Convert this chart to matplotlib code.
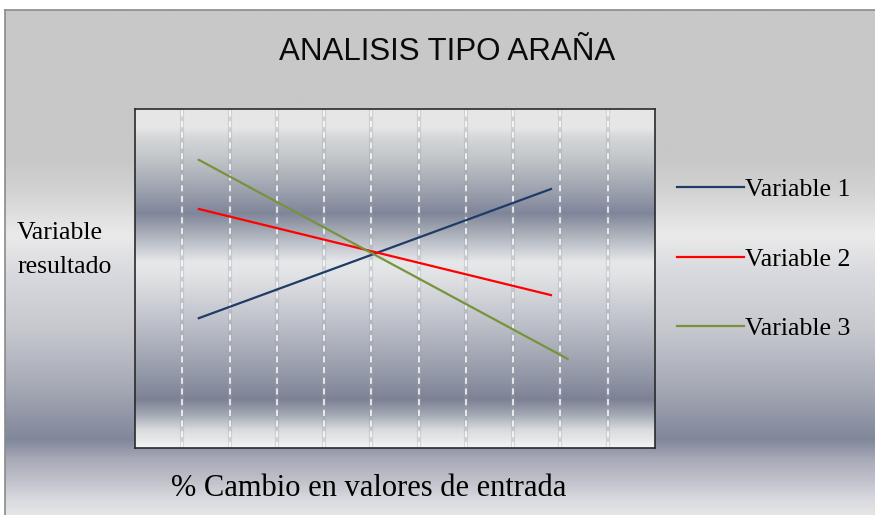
import numpy as np
import matplotlib
matplotlib.use("Agg")
import matplotlib.pyplot as plt
from matplotlib.colors import to_rgb

# data (x: 0..11 box, y: 0..100 box)
series_names = ["Variable 1", "Variable 2", "Variable 3"]
series_colors = ["#1f3b66", "#ff0000", "#77933c"]
v1_x = [1.35, 8.8]
v1_y = [38.3, 76.4]
v2_x = [1.35, 8.8]
v2_y = [70.5, 45.1]
v3_x = [1.35, 9.15]
v3_y = [85.0, 26.3]
grid_x = [1, 2, 3, 4, 5, 6, 7, 8, 9, 10]

title = "ANALISIS TIPO ARAÑA"
ylabel = "Variable\nresultado"
xlabel = "% Cambio en valores de entrada"

W, H = 875, 515


def gradient(stops, top, bottom, n=400):
    ys = np.linspace(top, bottom, n)
    pos = [s[0] for s in stops]
    cols = np.array([to_rgb(s[1]) for s in stops])
    img = np.stack([np.interp(ys, pos, cols[:, k]) for k in range(3)], axis=-1)
    return img[:, None, :]


fig = plt.figure(figsize=(W / 100, H / 100), dpi=100, facecolor="white")

# outer background panel
bg_stops = [(10, "#c8c8c8"), (160, "#c8c8c8"), (190, "#d2d2d2"), (235, "#eaeaea"),
            (275, "#d8d9de"), (330, "#c6c8ce"), (390, "#a4a8b4"), (440, "#80879a"),
            (460, "#a8aab8"), (482, "#c2c2cc"), (500, "#d8dade"), (515, "#e6e6e6")]
bg = fig.add_axes([5 / W, 0, 870 / W, 505 / H], zorder=0)
bg.imshow(gradient(bg_stops, 10, 515), aspect="auto", extent=[0, 1, 0, 1])
bg.set_xticks([])
bg.set_yticks([])
for side in ["right", "bottom"]:
    bg.spines[side].set_visible(False)
for side in ["top", "left"]:
    bg.spines[side].set_color("#8a8a8a")
    bg.spines[side].set_linewidth(1.2)

# plot area
ax = fig.add_axes([135 / W, 1 - 448 / H, 520 / W, 339 / H], zorder=1)
pa_stops = [(109, "#e6e6e6"), (128, "#e6e6e6"), (136, "#d6d8da"), (160, "#c0c4c8"),
            (190, "#9ca2ae"), (213, "#80869a"), (226, "#9aa0ac"), (242, "#bcc0c8"),
            (262, "#e6e8ea"), (276, "#e0e2e4"), (300, "#cfd1d7"), (340, "#b0b4be"),
            (380, "#8e94a4"), (400, "#7c8294"), (414, "#a0a6b2"), (430, "#d8dadc"),
            (448, "#f4f4f4")]
ax.imshow(gradient(pa_stops, 109, 448), aspect="auto", extent=[0, 11, 0, 100], zorder=0)
ax.set_xlim(0, 11)
ax.set_ylim(0, 100)

for gx in grid_x:
    ax.axvline(gx, color="#9aa0aa", lw=3, alpha=0.3, zorder=1)
    ax.axvline(gx, color="white", lw=1.1, ls=(0, (4, 3)), zorder=2)

ax.plot(v1_x, v1_y, color=series_colors[0], lw=1.6, label=series_names[0], zorder=3)
ax.plot(v2_x, v2_y, color=series_colors[1], lw=1.6, label=series_names[1], zorder=3)
ax.plot(v3_x, v3_y, color=series_colors[2], lw=1.6, label=series_names[2], zorder=3)

ax.set_xticks([])
ax.set_yticks([])
for s in ax.spines.values():
    s.set_color("#2a2a2a")
    s.set_linewidth(1.2)

serif = ["Liberation Serif", "DejaVu Serif"]
leg = ax.legend(loc="upper left", bbox_to_anchor=(677 / W, 1 - 178 / H),
                bbox_transform=fig.transFigure, frameon=False,
                prop={"family": serif, "size": 18.5},
                handlelength=2.6, handletextpad=0.05, labelspacing=1.82,
                borderpad=0, borderaxespad=0)
for ln in leg.get_lines():
    ln.set_linewidth(1.6)

fig.text(447 / W, 1 - 52 / H, title, ha="center", va="center", fontsize=22.5,
         family=["Liberation Sans", "DejaVu Sans"], color="#0a0a0a")
fig.text(17 / W, 1 - 250 / H, ylabel, ha="left", va="center", fontsize=18.5,
         family=serif, linespacing=1.7)
fig.text(369 / W, 1 - 488 / H, xlabel, ha="center", va="center", fontsize=22,
         family=serif)

fig.savefig("out.png", dpi=100, facecolor="white")
